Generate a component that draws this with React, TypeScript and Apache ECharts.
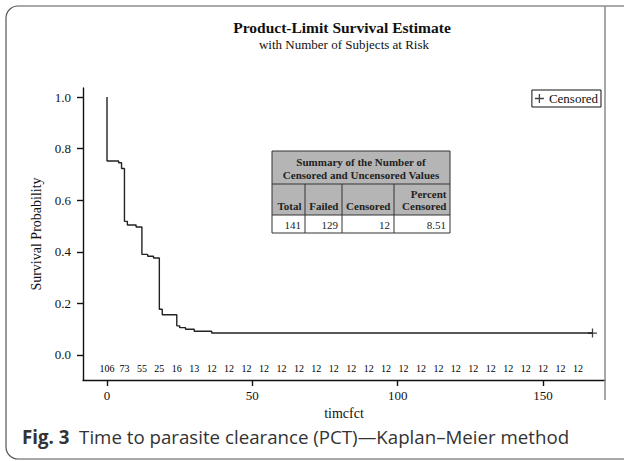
import React, { useEffect, useRef } from "react";
import * as echarts from "echarts";

// Kaplan–Meier step points (time, survival probability)
const kmTimes = [0, 0, 4, 5, 6, 7, 10, 12, 14, 16, 18, 19, 24, 25, 27, 30, 36, 167];
const kmSurvival = [1.0, 0.752, 0.745, 0.723, 0.518, 0.504, 0.496, 0.39, 0.383, 0.376, 0.177, 0.156, 0.113, 0.106, 0.1, 0.092, 0.085, 0.085];

// Censored observation(s)
const censoredTimes = [167];
const censoredSurvival = [0.085];

// Number of subjects at risk, every 6 time units
const atRiskTimes = [0, 6, 12, 18, 24, 30, 36, 42, 48, 54, 60, 66, 72, 78, 84, 90, 96, 102, 108, 114, 120, 126, 132, 138, 144, 150, 156, 162];
const atRiskCounts = [106, 73, 55, 25, 16, 13, 12, 12, 12, 12, 12, 12, 12, 12, 12, 12, 12, 12, 12, 12, 12, 12, 12, 12, 12, 12, 12, 12];

// Axis ticks
const xTicks = [0, 50, 100, 150];
const yTicks = [0, 0.2, 0.4, 0.6, 0.8, 1.0];

// Summary table
const tableHeaders = ["Total", "Failed", "Censored", "Percent|Censored"];
const tableValues = ["141", "129", "12", "8.51"];

const SERIF = "'Liberation Serif', 'Times New Roman', 'DejaVu Serif', serif";

export default function App() {
  const ref = useRef<HTMLDivElement>(null);

  useEffect(() => {
    if (!ref.current) return;
    const chart = echarts.init(ref.current, null, { renderer: "svg" });

    const plusPath = "path://M4.3,0H5.7V4.3H10V5.7H5.7V10H4.3V5.7H0V4.3H4.3Z";

    // table geometry
    const cols = [272, 305, 342, 394, 450];
    const rows = [151, 184, 215, 233];
    const tableEls: any[] = [];
    tableEls.push({ type: "rect", shape: { x: cols[0], y: rows[0], width: cols[4] - cols[0], height: rows[2] - rows[0] }, style: { fill: "#b5b5b5", stroke: "none" } });
    tableEls.push({ type: "rect", shape: { x: cols[0], y: rows[0], width: cols[4] - cols[0], height: rows[3] - rows[0] }, style: { fill: "none", stroke: "#333", lineWidth: 1 } });
    tableEls.push({ type: "line", shape: { x1: cols[0], y1: rows[1], x2: cols[4], y2: rows[1] }, style: { stroke: "#333", lineWidth: 1 } });
    tableEls.push({ type: "line", shape: { x1: cols[0], y1: rows[2], x2: cols[4], y2: rows[2] }, style: { stroke: "#333", lineWidth: 1 } });
    for (let i = 1; i < 4; i++) {
      tableEls.push({ type: "line", shape: { x1: cols[i], y1: rows[1], x2: cols[i], y2: rows[3] }, style: { stroke: "#333", lineWidth: 1 } });
    }
    tableEls.push({ type: "text", x: (cols[0] + cols[4]) / 2, y: 162, style: { text: "Summary of the Number of", fontFamily: SERIF, fontWeight: "bold", fontSize: 11, fill: "#222", align: "center", verticalAlign: "middle" } });
    tableEls.push({ type: "text", x: (cols[0] + cols[4]) / 2, y: 174.5, style: { text: "Censored and Uncensored Values", fontFamily: SERIF, fontWeight: "bold", fontSize: 11, fill: "#222", align: "center", verticalAlign: "middle" } });
    tableHeaders.forEach((h, i) => {
      const parts = h.split("|");
      const xr = cols[i + 1] - 3.5;
      if (parts.length === 2) {
        tableEls.push({ type: "text", x: xr, y: 193.5, style: { text: parts[0], fontFamily: SERIF, fontWeight: "bold", fontSize: 11, fill: "#222", align: "right", verticalAlign: "middle" } });
        tableEls.push({ type: "text", x: xr, y: 205.5, style: { text: parts[1], fontFamily: SERIF, fontWeight: "bold", fontSize: 11, fill: "#222", align: "right", verticalAlign: "middle" } });
      } else {
        tableEls.push({ type: "text", x: xr, y: 205.5, style: { text: parts[0], fontFamily: SERIF, fontWeight: "bold", fontSize: 11, fill: "#222", align: "right", verticalAlign: "middle" } });
      }
    });
    tableValues.forEach((v, i) => {
      tableEls.push({ type: "text", x: cols[i + 1] - 4, y: 225, style: { text: v, fontFamily: SERIF, fontSize: 11, fill: "#222", align: "right", verticalAlign: "middle" } });
    });

    const option: any = {
      animation: false,
      backgroundColor: "#fff",
      grid: { left: 83, right: 19, top: 88, bottom: 81, containLabel: false },
      xAxis: {
        type: "value",
        min: -8.26,
        max: 171.3,
        name: "timcfct",
        nameLocation: "middle",
        nameGap: 24,
        nameTextStyle: { fontFamily: SERIF, fontSize: 14, color: "#111" },
        axisLine: { onZero: false, lineStyle: { color: "#111", width: 1.4 } },
        axisTick: { show: true, length: 6, customValues: xTicks, lineStyle: { color: "#111", width: 1.4 } },
        axisLabel: { customValues: xTicks, margin: 9, fontFamily: SERIF, fontSize: 13, color: "#111" },
        splitLine: { show: false },
      },
      yAxis: {
        type: "value",
        min: -0.097,
        max: 1.035,
        name: "Survival Probability",
        nameLocation: "middle",
        nameGap: 38,
        nameTextStyle: { fontFamily: SERIF, fontSize: 14, color: "#111" },
        axisLine: { show: true, onZero: false, lineStyle: { color: "#111", width: 1.4 } },
        axisTick: { show: true, length: 6, customValues: yTicks, lineStyle: { color: "#111", width: 1.4 } },
        axisLabel: { customValues: yTicks, margin: 12, fontFamily: SERIF, fontSize: 13, color: "#111", formatter: (v: number) => v.toFixed(1) },
        splitLine: { show: false },
      },
      legend: {
        data: ["Censored"],
        right: 23,
        top: 90,
        orient: "horizontal",
        itemWidth: 9,
        itemHeight: 9,
        itemGap: 3,
        padding: [2, 3, 2, 3],
        borderColor: "#111",
        borderWidth: 1,
        backgroundColor: "#fff",
        selectedMode: false,
        textStyle: { fontFamily: SERIF, fontSize: 13, color: "#111", padding: [0, 0, 0, 0] },
      },
      series: [
        {
          name: "KM",
          type: "line",
          step: "end",
          showSymbol: false,
          symbol: "none",
          data: kmTimes.map((t, i) => [t, kmSurvival[i]]),
          lineStyle: { color: "#222", width: 1.4 },
          z: 3,
        },
        {
          name: "Censored",
          type: "scatter",
          symbol: plusPath,
          symbolSize: 9,
          data: censoredTimes.map((t, i) => [t, censoredSurvival[i]]),
          itemStyle: { color: "#111" },
          z: 4,
        },
        {
          name: "At risk",
          type: "scatter",
          symbol: "circle",
          symbolSize: 0,
          itemStyle: { color: "#000", opacity: 0 },
          data: atRiskTimes.map((t, i) => [t, -0.054, atRiskCounts[i]]),
          label: {
            show: true,
            position: "inside",
            formatter: (p: any) => String(p.value[2]),
            fontFamily: SERIF,
            fontSize: 10,
            color: "#000",
            opacity: 1,
            textBorderColor: "transparent",
            textBorderWidth: 0,
          },
          silent: true,
        },
      ],
      graphic: [
        { type: "rect", shape: { x: 6, y: 6, width: 660, height: 453, r: 12 }, style: { fill: "none", stroke: "#555", lineWidth: 1.2 }, z: 10 },
        { type: "line", shape: { x1: 605, y1: 6, x2: 605, y2: 400 }, style: { stroke: "#8a8a8a", lineWidth: 1.5 }, z: 10 },
        { type: "text", x: 342, y: 27, style: { text: "Product-Limit Survival Estimate", fontFamily: SERIF, fontWeight: "bold", fontSize: 15.5, fill: "#111", align: "center", verticalAlign: "middle" } },
        { type: "text", x: 344, y: 44, style: { text: "with Number of Subjects at Risk", fontFamily: SERIF, fontSize: 13, fill: "#111", align: "center", verticalAlign: "middle" } },
        { type: "group", children: tableEls, z: 20 },
        {
          type: "text",
          x: 22,
          y: 436,
          style: {
            text: "{b|Fig. 3}  Time to parasite clearance (PCT)—Kaplan–Meier method",
            fontFamily: "'Open Sans', 'Noto Sans', sans-serif",
            fontSize: 18.7,
            fill: "#333",
            verticalAlign: "middle",
            rich: { b: { fontFamily: "'Open Sans', 'Noto Sans', sans-serif", fontWeight: "bold", fontSize: 18.7, fill: "#333" } },
          },
        },
      ],
    };

    chart.setOption(option);
    return () => chart.dispose();
  }, []);

  return <div ref={ref} style={{ position: "fixed", left: 0, top: 0, width: 624, height: 461 }} />;
}
